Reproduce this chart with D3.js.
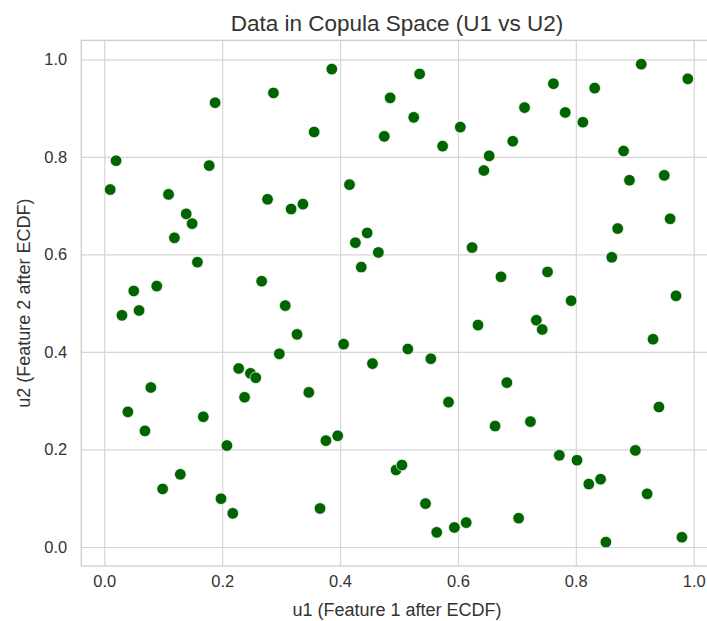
<!DOCTYPE html>
<html>
<head>
<meta charset="utf-8">
<script src="https://cdn.jsdelivr.net/npm/d3@7"></script>
<style>
  html, body { margin: 0; padding: 0; background: #ffffff; overflow: hidden; }
  svg { display: block; font-family: "Liberation Sans", Arial, sans-serif; }
</style>
</head>
<body>
<svg id="chart" width="707" height="621"></svg>
<script>
// Empirical-CDF (rank / (n + 1)) transformed features
const u1 = [
  0.010, 0.020, 0.030, 0.040, 0.050, 0.059, 0.069, 0.079, 0.089, 0.099,
  0.109, 0.119, 0.129, 0.139, 0.149, 0.158, 0.168, 0.178, 0.188, 0.198,
  0.208, 0.218, 0.228, 0.238, 0.248, 0.257, 0.267, 0.277, 0.287, 0.297,
  0.307, 0.317, 0.327, 0.337, 0.347, 0.356, 0.366, 0.376, 0.386, 0.396,
  0.406, 0.416, 0.426, 0.436, 0.446, 0.455, 0.465, 0.475, 0.485, 0.495,
  0.505, 0.515, 0.525, 0.535, 0.545, 0.554, 0.564, 0.574, 0.584, 0.594,
  0.604, 0.614, 0.624, 0.634, 0.644, 0.653, 0.663, 0.673, 0.683, 0.693,
  0.703, 0.713, 0.723, 0.733, 0.743, 0.752, 0.762, 0.772, 0.782, 0.792,
  0.802, 0.812, 0.822, 0.832, 0.842, 0.851, 0.861, 0.871, 0.881, 0.891,
  0.901, 0.911, 0.921, 0.931, 0.941, 0.950, 0.960, 0.970, 0.980, 0.990
];
const u2 = [
  0.733, 0.792, 0.475, 0.277, 0.525, 0.485, 0.238, 0.327, 0.535, 0.119,
  0.723, 0.634, 0.149, 0.683, 0.663, 0.584, 0.267, 0.782, 0.911, 0.099,
  0.208, 0.069, 0.366, 0.307, 0.356, 0.347, 0.545, 0.713, 0.931, 0.396,
  0.495, 0.693, 0.436, 0.703, 0.317, 0.851, 0.079, 0.218, 0.980, 0.228,
  0.416, 0.743, 0.624, 0.574, 0.644, 0.376, 0.604, 0.842, 0.921, 0.158,
  0.168, 0.406, 0.881, 0.970, 0.089, 0.386, 0.030, 0.822, 0.297, 0.040,
  0.861, 0.050, 0.614, 0.455, 0.772, 0.802, 0.248, 0.554, 0.337, 0.832,
  0.059, 0.901, 0.257, 0.465, 0.446, 0.564, 0.950, 0.188, 0.891, 0.505,
  0.178, 0.871, 0.129, 0.941, 0.139, 0.010, 0.594, 0.653, 0.812, 0.752,
  0.198, 0.990, 0.109, 0.426, 0.287, 0.762, 0.673, 0.515, 0.020, 0.960
];
const xTicks = [0.0, 0.2, 0.4, 0.6, 0.8, 1.0];
const yTicks = [0.0, 0.2, 0.4, 0.6, 0.8, 1.0];

const titleText = "Data in Copula Space (U1 vs U2)";
const xLabel = "u1 (Feature 1 after ECDF)";
const yLabel = "u2 (Feature 2 after ECDF)";

const points = u1.map((v, i) => ({ x: v, y: u2[i] }));

const svg = d3.select("#chart");

// Axes area (right edge runs past the canvas)
const plot = { left: 81.3, right: 716.7, top: 40.3, bottom: 566 };

// 5% padding around the data range on both axes
const pad = (d3.max(u1) - d3.min(u1)) * 0.05;
const x = d3.scaleLinear()
  .domain([d3.min(u1) - pad, d3.max(u1) + pad])
  .range([plot.left, plot.right]);
const padY = (d3.max(u2) - d3.min(u2)) * 0.05;
const y = d3.scaleLinear()
  .domain([d3.min(u2) - padY, d3.max(u2) + padY])
  .range([plot.bottom, plot.top]);

const gridColor = "#d6d6d6";
const textColor = "#333333";

// Grid lines
const xAxis = d3.axisBottom(x).tickValues(xTicks)
  .tickSize(-(plot.bottom - plot.top)).tickFormat(d3.format(".1f")).tickPadding(8);
const yAxis = d3.axisLeft(y).tickValues(yTicks)
  .tickSize(-(plot.right - plot.left)).tickFormat(d3.format(".1f")).tickPadding(8);

const gx = svg.append("g").attr("transform", `translate(0,${plot.bottom})`).call(xAxis);
const gy = svg.append("g").attr("transform", `translate(${plot.left},0)`).call(yAxis);

[gx, gy].forEach(g => {
  g.select(".domain").remove();
  g.selectAll(".tick line").attr("stroke", gridColor).attr("stroke-width", 1.2);
  g.selectAll(".tick text")
    .attr("fill", textColor)
    .style("font-size", "16.5px")
    .style("font-family", "'Liberation Sans', Arial, sans-serif");
});
gx.selectAll(".tick text").attr("dy", "0.71em").attr("y", 9);
gy.selectAll(".tick text").attr("x", -14);

// Axes frame
svg.append("rect")
  .attr("x", plot.left).attr("y", plot.top)
  .attr("width", plot.right - plot.left).attr("height", plot.bottom - plot.top)
  .attr("fill", "none").attr("stroke", "#cccccc").attr("stroke-width", 1.3);

// Scatter points
svg.append("g").selectAll("circle")
  .data(points)
  .join("circle")
  .attr("cx", d => x(d.x))
  .attr("cy", d => y(d.y))
  .attr("r", 5.8)
  .attr("fill", "#006400")
  .attr("stroke", "#ffffff")
  .attr("stroke-width", 0.7);

// Title and axis labels
svg.append("text")
  .attr("x", 397).attr("y", 30.5)
  .attr("text-anchor", "middle")
  .attr("fill", textColor)
  .style("font-size", "22.5px")
  .text(titleText);

svg.append("text")
  .attr("x", 397).attr("y", 615.5)
  .attr("text-anchor", "middle")
  .attr("fill", textColor)
  .style("font-size", "18px")
  .text(xLabel);

svg.append("text")
  .attr("transform", `translate(30,${(plot.top + plot.bottom) / 2}) rotate(-90)`)
  .attr("text-anchor", "middle")
  .attr("fill", textColor)
  .style("font-size", "18px")
  .text(yLabel);
</script>
</body>
</html>
